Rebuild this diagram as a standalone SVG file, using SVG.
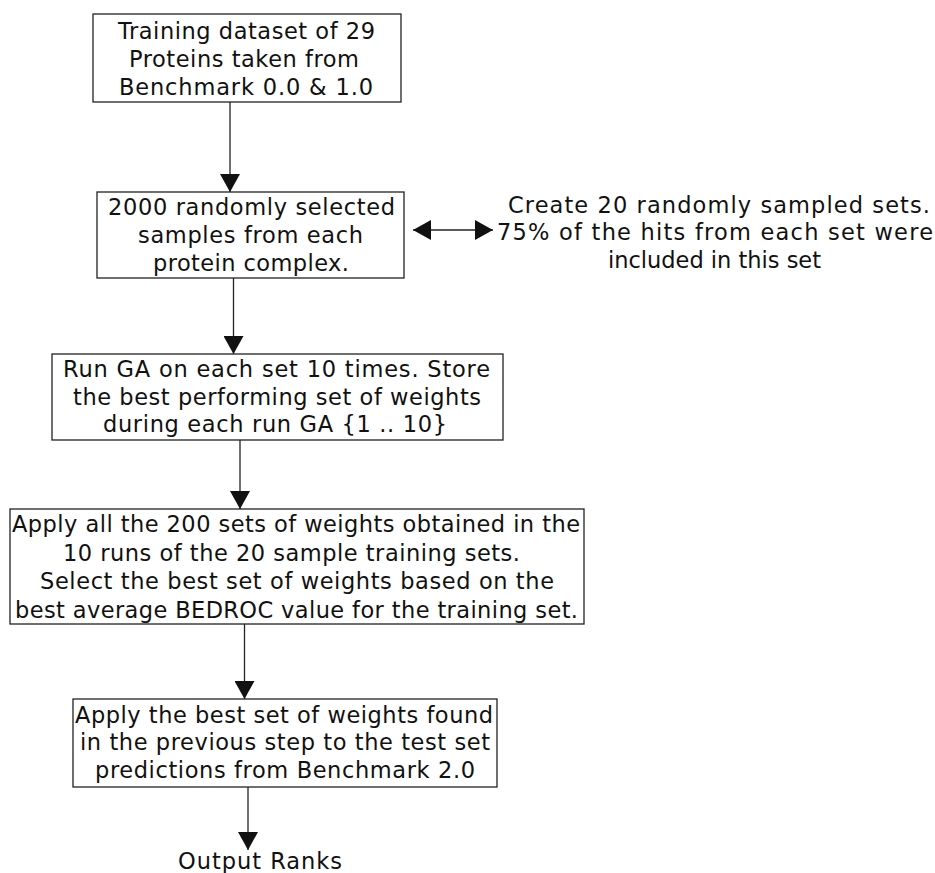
<svg xmlns="http://www.w3.org/2000/svg" width="935" height="873" viewBox="0 0 935 873">
<defs>
<style>
.box{fill:#fff;stroke:#222;stroke-width:1.3}
.t{font-family:"DejaVu Sans","Liberation Sans",sans-serif;font-size:22.5px;fill:#111}
.c{stroke:#222;stroke-width:1.3;fill:none}
</style>
<marker id="ah" viewBox="0 0 18 20" refX="18" refY="10" markerWidth="18" markerHeight="20" markerUnits="userSpaceOnUse" orient="auto-start-reverse">
<path d="M0,0 L18,10 L0,20 Z" fill="#111"/>
</marker>
</defs>
<rect width="935" height="873" fill="#fff"/>
<g id="connectors">
<line class="c" x1="230" y1="102" x2="230" y2="192" marker-end="url(#ah)"/>
<line class="c" x1="233.5" y1="278" x2="233.5" y2="354" marker-end="url(#ah)"/>
<line class="c" x1="240" y1="440" x2="240" y2="509" marker-end="url(#ah)"/>
<line class="c" x1="244.5" y1="624" x2="244.5" y2="699" marker-end="url(#ah)"/>
<line class="c" x1="248" y1="787" x2="248" y2="850" marker-end="url(#ah)"/>
<line class="c" x1="413" y1="230" x2="493" y2="230" marker-start="url(#ah)" marker-end="url(#ah)"/>
</g>
<g id="n1">
<rect class="box" x="93" y="14" width="308" height="88"/>
<text class="t" x="118" y="39" textLength="257" lengthAdjust="spacing">Training dataset of 29</text>
<text class="t" x="129" y="67" textLength="230" lengthAdjust="spacing">Proteins taken from</text>
<text class="t" x="119" y="95" textLength="254" lengthAdjust="spacing">Benchmark 0.0 &amp; 1.0</text>
</g>
<g id="n2">
<rect class="box" x="97" y="192" width="307" height="86"/>
<text class="t" x="108" y="215" textLength="287" lengthAdjust="spacing">2000 randomly selected</text>
<text class="t" x="138" y="243" textLength="225" lengthAdjust="spacing">samples from each</text>
<text class="t" x="153" y="271" textLength="196" lengthAdjust="spacing">protein complex.</text>
</g>
<g id="n2note">
<text class="t" x="508" y="213" textLength="422" lengthAdjust="spacing">Create 20 randomly sampled sets.</text>
<text class="t" x="497" y="240" textLength="436" lengthAdjust="spacing">75% of the hits from each set were</text>
<text class="t" x="608" y="268" textLength="213" lengthAdjust="spacing">included in this set</text>
</g>
<g id="n3">
<rect class="box" x="52" y="354" width="451" height="86"/>
<text class="t" x="63" y="377" textLength="427" lengthAdjust="spacing">Run GA on each set 10 times. Store</text>
<text class="t" x="73" y="405" textLength="408" lengthAdjust="spacing">the best performing set of weights</text>
<text class="t" x="103" y="432" textLength="344" lengthAdjust="spacing">during each run GA {1 .. 10}</text>
</g>
<g id="n4">
<rect class="box" x="10" y="509" width="574" height="115"/>
<text class="t" x="12" y="532" textLength="568" lengthAdjust="spacing">Apply all the 200 sets of weights obtained in the</text>
<text class="t" x="63" y="561" textLength="457" lengthAdjust="spacing">10 runs of the 20 sample training sets.</text>
<text class="t" x="40" y="589" textLength="514" lengthAdjust="spacing">Select the best set of weights based on the</text>
<text class="t" x="15" y="618" textLength="563" lengthAdjust="spacing">best average BEDROC value for the training set.</text>
</g>
<g id="n5">
<rect class="box" x="73" y="699" width="424" height="88"/>
<text class="t" x="75" y="723" textLength="418" lengthAdjust="spacing">Apply the best set of weights found</text>
<text class="t" x="80" y="750" textLength="410" lengthAdjust="spacing">in the previous step to the test set</text>
<text class="t" x="95" y="778" textLength="380" lengthAdjust="spacing">predictions from Benchmark 2.0</text>
</g>
<g id="n6">
<text class="t" x="178" y="869" textLength="164" lengthAdjust="spacing">Output Ranks</text>
</g>
</svg>
